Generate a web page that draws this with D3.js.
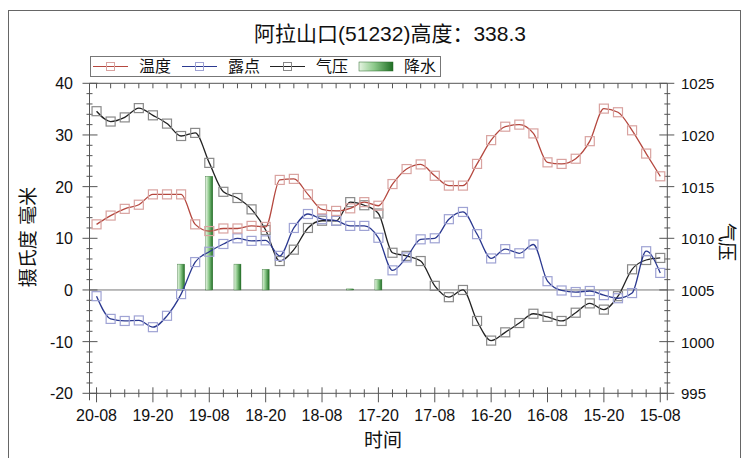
<!DOCTYPE html>
<html>
<head>
<meta charset="utf-8">
<script src="https://cdn.jsdelivr.net/npm/d3@7"></script>
<style>
  body { margin: 0; background: #fff; }
  svg text { font-family: "Liberation Sans", "Noto Sans CJK SC", Arial, sans-serif; fill: #111; }
</style>
</head>
<body>
<svg id="chart"></svg>
<script>
// observations every 3 hours, from 20-08 back to 15-08
const tickLabels = ['20-08', '19-20', '19-08', '18-20', '18-08', '17-20', '17-08', '16-20', '16-08', '15-20', '15-08'];

const temperature = [12.7, 14.4, 15.7, 16.5, 18.5, 18.5, 18.5, 12.7, 11.4, 11.9, 11.9, 12.4, 12.2, 21.3, 21.5,
  18.5, 15.6, 15.3, 15.8, 17.0, 16.3, 20.5, 23.4, 24.3, 22.1, 20.2, 20.2, 24.4, 29.0, 31.6, 32.0, 30.3,
  24.7, 24.4, 25.4, 28.8, 35.1, 34.4, 30.9, 26.4, 22.0];

const dewPoint = [-1.2, -5.6, -6.0, -5.9, -7.2, -5.0, -0.8, 5.4, 7.4, 8.9, 10.0, 9.5, 9.6, 6.6, 12.0,
  14.7, 13.7, 13.4, 12.4, 12.4, 10.1, 3.8, 6.3, 9.8, 10.0, 13.7, 15.1, 10.8, 6.1, 7.9, 7.1, 8.8,
  1.7, -0.1, -0.4, -0.2, -1.0, -1.6, -0.6, 7.5, 3.3];

const pressure = [1022.3, 1021.3, 1021.7, 1022.6, 1021.9, 1021.1, 1019.9, 1020.2, 1017.3, 1014.5, 1013.9,
  1012.8, 1010.8, 1007.8, 1008.9, 1011.0, 1011.7, 1011.7, 1013.5, 1013.2, 1012.4, 1008.6, 1008.3, 1007.8,
  1005.4, 1004.3, 1005.0, 1002.0, 1000.1, 1000.9, 1001.8, 1002.7, 1002.4, 1002.0, 1002.8, 1003.7, 1003.1,
  1004.4, 1007.0, 1007.9, 1008.1];

// precipitation (mm), non-zero entries only: [observation index, amount]
const precipitation = [[6, 5], [8, 22], [10, 5], [12, 4], [18, 0.2], [20, 2]];

const W = 747, H = 458;
const plot = { left: 89.5, right: 667.3, top: 83.3, bottom: 393.3 };

const svg = d3.select('#chart').attr('width', W).attr('height', H);

const defs = svg.append('defs');
const grad = defs.append('linearGradient').attr('id', 'rain').attr('x1', 0).attr('x2', 1).attr('y1', 0).attr('y2', 0);
grad.append('stop').attr('offset', '0%').attr('stop-color', '#e6f4e2');
grad.append('stop').attr('offset', '45%').attr('stop-color', '#8cc98a');
grad.append('stop').attr('offset', '100%').attr('stop-color', '#1f6e24');

const x = d3.scaleLinear().domain([-0.5, temperature.length - 0.5]).range([plot.left, plot.right]);
const yL = d3.scaleLinear().domain([-20, 40]).range([plot.bottom, plot.top]);
const yR = d3.scaleLinear().domain([995, 1025]).range([plot.bottom, plot.top]);

// outer frame
svg.append('rect').attr('x', 8.5).attr('y', 10.5).attr('width', 732).attr('height', 470)
  .attr('fill', 'none').attr('stroke', '#666').attr('stroke-width', 1);

// title
svg.append('text').attr('x', 390).attr('y', 41).attr('text-anchor', 'middle')
  .style('font-size', '21px').text('阿拉山口(51232)高度：338.3');

// legend
const lg = svg.append('g');
lg.append('rect').attr('x', 90.5).attr('y', 56.5).attr('width', 350).attr('height', 20)
  .attr('fill', '#fff').attr('stroke', '#777');
const legendItems = [
  { name: '温度', color: '#b5483f', mark: '#d9a3a0', x: 93 },
  { name: '露点', color: '#2b3990', mark: '#9fa3d4', x: 182 },
  { name: '气压', color: '#222', mark: '#888', x: 270 }
];
legendItems.forEach(d => {
  lg.append('line').attr('x1', d.x).attr('x2', d.x + 35).attr('y1', 66.5).attr('y2', 66.5)
    .attr('stroke', d.color).attr('stroke-width', 1.2);
  lg.append('rect').attr('x', d.x + 13.5).attr('y', 62.5).attr('width', 8).attr('height', 8)
    .attr('fill', 'none').attr('stroke', d.mark);
  lg.append('text').attr('x', d.x + 46).attr('y', 72).style('font-size', '16px').text(d.name);
});
lg.append('rect').attr('x', 359).attr('y', 62).attr('width', 34).attr('height', 9)
  .attr('fill', 'url(#rain)').attr('stroke', '#2a6a2a').attr('stroke-width', 0.5);
lg.append('text').attr('x', 404).attr('y', 72).style('font-size', '16px').text('降水');

// zero line
svg.append('line').attr('x1', plot.left).attr('x2', plot.right).attr('y1', yL(0)).attr('y2', yL(0))
  .attr('stroke', '#777').attr('stroke-width', 1);

// precipitation bars
svg.append('g').selectAll('rect').data(precipitation).enter().append('rect')
  .attr('x', d => x(d[0]) - 3.5)
  .attr('y', d => yL(d[1]))
  .attr('width', 7)
  .attr('height', d => yL(0) - yL(d[1]))
  .attr('fill', 'url(#rain)')
  .attr('stroke', '#2f6f2f').attr('stroke-width', 0.4);

// frame of the plot
const frame = svg.append('g').attr('stroke', '#555').attr('stroke-width', 1);
frame.append('line').attr('x1', plot.left).attr('x2', plot.right).attr('y1', plot.top).attr('y2', plot.top);
frame.append('line').attr('x1', plot.left).attr('x2', plot.right).attr('y1', plot.bottom).attr('y2', plot.bottom);
frame.append('line').attr('x1', plot.left).attr('x2', plot.left).attr('y1', plot.top).attr('y2', plot.bottom + 7);
frame.append('line').attr('x1', plot.right).attr('x2', plot.right).attr('y1', plot.top).attr('y2', plot.bottom + 7);

// x ticks: every observation, labels every 4
const idx = d3.range(temperature.length);
frame.selectAll('.xt').data(idx).enter().append('line')
  .attr('x1', d => x(d)).attr('x2', d => x(d))
  .attr('y1', d => plot.bottom - (d % 4 === 0 ? 6 : 4))
  .attr('y2', d => plot.bottom + (d % 4 === 0 ? 9 : 4));
frame.selectAll('.xtt').data(idx).enter().append('line')
  .attr('x1', d => x(d)).attr('x2', d => x(d))
  .attr('y1', plot.top).attr('y2', plot.top + 5);
svg.append('g').selectAll('text').data(tickLabels).enter().append('text')
  .attr('x', (d, i) => x(i * 4)).attr('y', 421).attr('text-anchor', 'middle')
  .style('font-size', '16px').text(d => d);

// left axis
frame.selectAll('.ylm').data(d3.range(-20, 41, 2)).enter().append('line')
  .attr('y1', d => yL(d)).attr('y2', d => yL(d))
  .attr('x1', d => plot.left - (d % 10 === 0 ? 7 : 3))
  .attr('x2', d => plot.left + (d % 10 === 0 ? 8 : 3));
svg.append('g').selectAll('text').data(yL.ticks(6)).enter().append('text')
  .attr('x', 73).attr('y', d => yL(d) + 6).attr('text-anchor', 'end')
  .style('font-size', '16px').text(d => d);

// right axis
frame.selectAll('.yrm').data(d3.range(995, 1026, 1)).enter().append('line')
  .attr('y1', d => yR(d)).attr('y2', d => yR(d))
  .attr('x1', d => plot.right - (d % 5 === 0 ? 8 : 3))
  .attr('x2', d => plot.right + (d % 5 === 0 ? 7 : 3));
svg.append('g').selectAll('text').data(yR.ticks(6)).enter().append('text')
  .attr('x', 681).attr('y', d => yR(d) + 6)
  .style('font-size', '15px').text(d => d);

// axis titles
svg.append('text').attr('transform', 'translate(35,237) rotate(-90)').attr('text-anchor', 'middle')
  .style('font-size', '19px').text('摄氏度  毫米');
svg.append('text').attr('transform', 'translate(720,242) rotate(90)').attr('text-anchor', 'middle')
  .style('font-size', '19px').text('气压');
svg.append('text').attr('x', 383).attr('y', 447).attr('text-anchor', 'middle')
  .style('font-size', '19px').text('时间');

// series
function drawSeries(values, y, color, markColor) {
  const g = svg.append('g');
  g.append('path').datum(values)
    .attr('d', d3.line().x((d, i) => x(i)).y(d => y(d)).curve(d3.curveMonotoneX))
    .attr('fill', 'none').attr('stroke', color).attr('stroke-width', 1.3);
  g.selectAll('rect').data(values).enter().append('rect')
    .attr('x', (d, i) => x(i) - 4.5).attr('y', d => y(d) - 4.5)
    .attr('width', 9).attr('height', 9)
    .attr('fill', 'none').attr('stroke', markColor).attr('stroke-width', 1.2);
}
drawSeries(pressure, yR, '#222', '#8a8a8a');
drawSeries(dewPoint, yL, '#2b3990', '#9fa3d4');
drawSeries(temperature, yL, '#b5483f', '#d9a3a0');
</script>
</body>
</html>
